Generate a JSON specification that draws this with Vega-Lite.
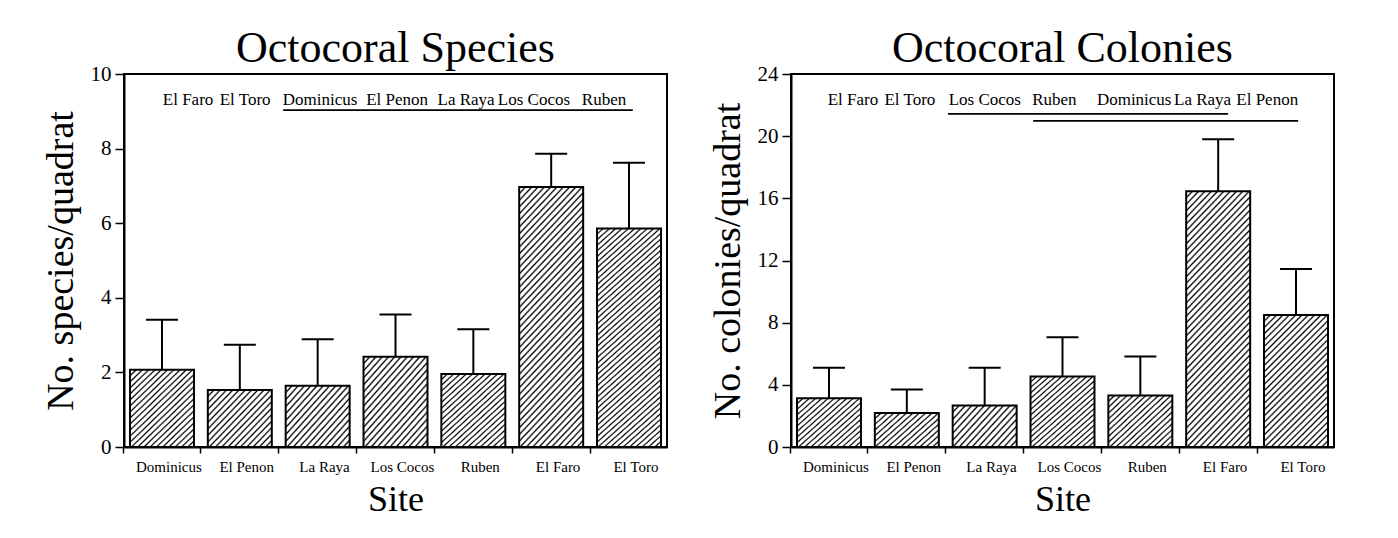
{
"$schema": "https://vega.github.io/schema/vega-lite/v6.json",
"padding": {"left": 41, "top": 26, "right": 5, "bottom": 5},
"background": "white",
"spacing": 124,
"bounds": "flush",
"params": [
  {"name": "hA", "value": {"gradient": "linear", "x1": 0, "y1": 0, "x2": 1.178, "y2": 0.7, "stops": [
{"offset":0,"color":"#000"},{"offset":0.0175,"color":"#fff"},{"offset":0.045,"color":"#fff"},
{"offset":0.0625,"color":"#000"},{"offset":0.08,"color":"#fff"},{"offset":0.1075,"color":"#fff"},
{"offset":0.125,"color":"#000"},{"offset":0.1425,"color":"#fff"},{"offset":0.17,"color":"#fff"},
{"offset":0.1875,"color":"#000"},{"offset":0.205,"color":"#fff"},{"offset":0.2325,"color":"#fff"},
{"offset":0.25,"color":"#000"},{"offset":0.2675,"color":"#fff"},{"offset":0.295,"color":"#fff"},
{"offset":0.3125,"color":"#000"},{"offset":0.33,"color":"#fff"},{"offset":0.3575,"color":"#fff"},
{"offset":0.375,"color":"#000"},{"offset":0.3925,"color":"#fff"},{"offset":0.42,"color":"#fff"},
{"offset":0.4375,"color":"#000"},{"offset":0.455,"color":"#fff"},{"offset":0.4825,"color":"#fff"},
{"offset":0.5,"color":"#000"},{"offset":0.5175,"color":"#fff"},{"offset":0.545,"color":"#fff"},
{"offset":0.5625,"color":"#000"},{"offset":0.58,"color":"#fff"},{"offset":0.6075,"color":"#fff"},
{"offset":0.625,"color":"#000"},{"offset":0.6425,"color":"#fff"},{"offset":0.67,"color":"#fff"},
{"offset":0.6875,"color":"#000"},{"offset":0.705,"color":"#fff"},{"offset":0.7325,"color":"#fff"},
{"offset":0.75,"color":"#000"},{"offset":0.7675,"color":"#fff"},{"offset":0.795,"color":"#fff"},
{"offset":0.8125,"color":"#000"},{"offset":0.83,"color":"#fff"},{"offset":0.8575,"color":"#fff"},
{"offset":0.875,"color":"#000"},{"offset":0.8925,"color":"#fff"},{"offset":0.92,"color":"#fff"},
{"offset":0.9375,"color":"#000"},{"offset":0.955,"color":"#fff"},{"offset":0.9825,"color":"#fff"},
{"offset":1,"color":"#000"}]}},
  {"name": "hB", "value": {"gradient": "linear", "x1": 0, "y1": 0, "x2": 1.07, "y2": 0.919, "stops": [
{"offset":0,"color":"#000"},{"offset":0.0147,"color":"#fff"},{"offset":0.0379,"color":"#fff"},
{"offset":0.0526,"color":"#000"},{"offset":0.0674,"color":"#fff"},{"offset":0.0905,"color":"#fff"},
{"offset":0.1053,"color":"#000"},{"offset":0.12,"color":"#fff"},{"offset":0.1432,"color":"#fff"},
{"offset":0.1579,"color":"#000"},{"offset":0.1726,"color":"#fff"},{"offset":0.1958,"color":"#fff"},
{"offset":0.2105,"color":"#000"},{"offset":0.2253,"color":"#fff"},{"offset":0.2484,"color":"#fff"},
{"offset":0.2632,"color":"#000"},{"offset":0.2779,"color":"#fff"},{"offset":0.3011,"color":"#fff"},
{"offset":0.3158,"color":"#000"},{"offset":0.3305,"color":"#fff"},{"offset":0.3537,"color":"#fff"},
{"offset":0.3684,"color":"#000"},{"offset":0.3832,"color":"#fff"},{"offset":0.4063,"color":"#fff"},
{"offset":0.4211,"color":"#000"},{"offset":0.4358,"color":"#fff"},{"offset":0.4589,"color":"#fff"},
{"offset":0.4737,"color":"#000"},{"offset":0.4884,"color":"#fff"},{"offset":0.5116,"color":"#fff"},
{"offset":0.5263,"color":"#000"},{"offset":0.5411,"color":"#fff"},{"offset":0.5642,"color":"#fff"},
{"offset":0.5789,"color":"#000"},{"offset":0.5937,"color":"#fff"},{"offset":0.6168,"color":"#fff"},
{"offset":0.6316,"color":"#000"},{"offset":0.6463,"color":"#fff"},{"offset":0.6695,"color":"#fff"},
{"offset":0.6842,"color":"#000"},{"offset":0.6989,"color":"#fff"},{"offset":0.7221,"color":"#fff"},
{"offset":0.7368,"color":"#000"},{"offset":0.7516,"color":"#fff"},{"offset":0.7747,"color":"#fff"},
{"offset":0.7895,"color":"#000"},{"offset":0.8042,"color":"#fff"},{"offset":0.8274,"color":"#fff"},
{"offset":0.8421,"color":"#000"},{"offset":0.8568,"color":"#fff"},{"offset":0.88,"color":"#fff"},
{"offset":0.8947,"color":"#000"},{"offset":0.9095,"color":"#fff"},{"offset":0.9326,"color":"#fff"},
{"offset":0.9474,"color":"#000"},{"offset":0.9621,"color":"#fff"},{"offset":0.9853,"color":"#fff"},
{"offset":1,"color":"#000"}]}},
  {"name": "hC", "value": {"gradient": "linear", "x1": 0, "y1": 0, "x2": 0.878, "y2": 1.098, "stops": [
{"offset":0,"color":"#000"},{"offset":0.0122,"color":"#fff"},{"offset":0.0313,"color":"#fff"},
{"offset":0.0435,"color":"#000"},{"offset":0.0557,"color":"#fff"},{"offset":0.0748,"color":"#fff"},
{"offset":0.087,"color":"#000"},{"offset":0.0991,"color":"#fff"},{"offset":0.1183,"color":"#fff"},
{"offset":0.1304,"color":"#000"},{"offset":0.1426,"color":"#fff"},{"offset":0.1617,"color":"#fff"},
{"offset":0.1739,"color":"#000"},{"offset":0.1861,"color":"#fff"},{"offset":0.2052,"color":"#fff"},
{"offset":0.2174,"color":"#000"},{"offset":0.2296,"color":"#fff"},{"offset":0.2487,"color":"#fff"},
{"offset":0.2609,"color":"#000"},{"offset":0.273,"color":"#fff"},{"offset":0.2922,"color":"#fff"},
{"offset":0.3043,"color":"#000"},{"offset":0.3165,"color":"#fff"},{"offset":0.3357,"color":"#fff"},
{"offset":0.3478,"color":"#000"},{"offset":0.36,"color":"#fff"},{"offset":0.3791,"color":"#fff"},
{"offset":0.3913,"color":"#000"},{"offset":0.4035,"color":"#fff"},{"offset":0.4226,"color":"#fff"},
{"offset":0.4348,"color":"#000"},{"offset":0.447,"color":"#fff"},{"offset":0.4661,"color":"#fff"},
{"offset":0.4783,"color":"#000"},{"offset":0.4904,"color":"#fff"},{"offset":0.5096,"color":"#fff"},
{"offset":0.5217,"color":"#000"},{"offset":0.5339,"color":"#fff"},{"offset":0.553,"color":"#fff"},
{"offset":0.5652,"color":"#000"},{"offset":0.5774,"color":"#fff"},{"offset":0.5965,"color":"#fff"},
{"offset":0.6087,"color":"#000"},{"offset":0.6209,"color":"#fff"},{"offset":0.64,"color":"#fff"},
{"offset":0.6522,"color":"#000"},{"offset":0.6643,"color":"#fff"},{"offset":0.6835,"color":"#fff"},
{"offset":0.6957,"color":"#000"},{"offset":0.7078,"color":"#fff"},{"offset":0.727,"color":"#fff"},
{"offset":0.7391,"color":"#000"},{"offset":0.7513,"color":"#fff"},{"offset":0.7704,"color":"#fff"},
{"offset":0.7826,"color":"#000"},{"offset":0.7948,"color":"#fff"},{"offset":0.8139,"color":"#fff"},
{"offset":0.8261,"color":"#000"},{"offset":0.8383,"color":"#fff"},{"offset":0.8574,"color":"#fff"},
{"offset":0.8696,"color":"#000"},{"offset":0.8817,"color":"#fff"},{"offset":0.9009,"color":"#fff"},
{"offset":0.913,"color":"#000"},{"offset":0.9252,"color":"#fff"},{"offset":0.9443,"color":"#fff"},
{"offset":0.9565,"color":"#000"},{"offset":0.9687,"color":"#fff"},{"offset":0.9878,"color":"#fff"},
{"offset":1,"color":"#000"}]}},
  {"name": "hD", "value": {"gradient": "linear", "x1": 0, "y1": 0, "x2": 0.583, "y2": 1.202, "stops": [
{"offset":0,"color":"#000"},{"offset":0.009,"color":"#fff"},{"offset":0.0232,"color":"#fff"},
{"offset":0.0323,"color":"#000"},{"offset":0.0413,"color":"#fff"},{"offset":0.0555,"color":"#fff"},
{"offset":0.0645,"color":"#000"},{"offset":0.0735,"color":"#fff"},{"offset":0.0877,"color":"#fff"},
{"offset":0.0968,"color":"#000"},{"offset":0.1058,"color":"#fff"},{"offset":0.12,"color":"#fff"},
{"offset":0.129,"color":"#000"},{"offset":0.1381,"color":"#fff"},{"offset":0.1523,"color":"#fff"},
{"offset":0.1613,"color":"#000"},{"offset":0.1703,"color":"#fff"},{"offset":0.1845,"color":"#fff"},
{"offset":0.1935,"color":"#000"},{"offset":0.2026,"color":"#fff"},{"offset":0.2168,"color":"#fff"},
{"offset":0.2258,"color":"#000"},{"offset":0.2348,"color":"#fff"},{"offset":0.249,"color":"#fff"},
{"offset":0.2581,"color":"#000"},{"offset":0.2671,"color":"#fff"},{"offset":0.2813,"color":"#fff"},
{"offset":0.2903,"color":"#000"},{"offset":0.2994,"color":"#fff"},{"offset":0.3135,"color":"#fff"},
{"offset":0.3226,"color":"#000"},{"offset":0.3316,"color":"#fff"},{"offset":0.3458,"color":"#fff"},
{"offset":0.3548,"color":"#000"},{"offset":0.3639,"color":"#fff"},{"offset":0.3781,"color":"#fff"},
{"offset":0.3871,"color":"#000"},{"offset":0.3961,"color":"#fff"},{"offset":0.4103,"color":"#fff"},
{"offset":0.4194,"color":"#000"},{"offset":0.4284,"color":"#fff"},{"offset":0.4426,"color":"#fff"},
{"offset":0.4516,"color":"#000"},{"offset":0.4606,"color":"#fff"},{"offset":0.4748,"color":"#fff"},
{"offset":0.4839,"color":"#000"},{"offset":0.4929,"color":"#fff"},{"offset":0.5071,"color":"#fff"},
{"offset":0.5161,"color":"#000"},{"offset":0.5252,"color":"#fff"},{"offset":0.5394,"color":"#fff"},
{"offset":0.5484,"color":"#000"},{"offset":0.5574,"color":"#fff"},{"offset":0.5716,"color":"#fff"},
{"offset":0.5806,"color":"#000"},{"offset":0.5897,"color":"#fff"},{"offset":0.6039,"color":"#fff"},
{"offset":0.6129,"color":"#000"},{"offset":0.6219,"color":"#fff"},{"offset":0.6361,"color":"#fff"},
{"offset":0.6452,"color":"#000"},{"offset":0.6542,"color":"#fff"},{"offset":0.6684,"color":"#fff"},
{"offset":0.6774,"color":"#000"},{"offset":0.6865,"color":"#fff"},{"offset":0.7006,"color":"#fff"},
{"offset":0.7097,"color":"#000"},{"offset":0.7187,"color":"#fff"},{"offset":0.7329,"color":"#fff"},
{"offset":0.7419,"color":"#000"},{"offset":0.751,"color":"#fff"},{"offset":0.7652,"color":"#fff"},
{"offset":0.7742,"color":"#000"},{"offset":0.7832,"color":"#fff"},{"offset":0.7974,"color":"#fff"},
{"offset":0.8065,"color":"#000"},{"offset":0.8155,"color":"#fff"},{"offset":0.8297,"color":"#fff"},
{"offset":0.8387,"color":"#000"},{"offset":0.8477,"color":"#fff"},{"offset":0.8619,"color":"#fff"},
{"offset":0.871,"color":"#000"},{"offset":0.88,"color":"#fff"},{"offset":0.8942,"color":"#fff"},
{"offset":0.9032,"color":"#000"},{"offset":0.9123,"color":"#fff"},{"offset":0.9265,"color":"#fff"},
{"offset":0.9355,"color":"#000"},{"offset":0.9445,"color":"#fff"},{"offset":0.9587,"color":"#fff"},
{"offset":0.9677,"color":"#000"},{"offset":0.9768,"color":"#fff"},{"offset":0.991,"color":"#fff"},
{"offset":1,"color":"#000"}]}},
  {"name": "hE", "value": {"gradient": "linear", "x1": 0, "y1": 0, "x2": 0.3084, "y2": 1.1807, "stops": [
{"offset":0,"color":"#000"},{"offset":0.0057,"color":"#fff"},{"offset":0.0147,"color":"#fff"},
{"offset":0.0204,"color":"#000"},{"offset":0.0261,"color":"#fff"},{"offset":0.0351,"color":"#fff"},
{"offset":0.0408,"color":"#000"},{"offset":0.0465,"color":"#fff"},{"offset":0.0555,"color":"#fff"},
{"offset":0.0612,"color":"#000"},{"offset":0.0669,"color":"#fff"},{"offset":0.0759,"color":"#fff"},
{"offset":0.0816,"color":"#000"},{"offset":0.0873,"color":"#fff"},{"offset":0.0963,"color":"#fff"},
{"offset":0.102,"color":"#000"},{"offset":0.1077,"color":"#fff"},{"offset":0.1167,"color":"#fff"},
{"offset":0.1224,"color":"#000"},{"offset":0.1282,"color":"#fff"},{"offset":0.1371,"color":"#fff"},
{"offset":0.1429,"color":"#000"},{"offset":0.1486,"color":"#fff"},{"offset":0.1576,"color":"#fff"},
{"offset":0.1633,"color":"#000"},{"offset":0.169,"color":"#fff"},{"offset":0.178,"color":"#fff"},
{"offset":0.1837,"color":"#000"},{"offset":0.1894,"color":"#fff"},{"offset":0.1984,"color":"#fff"},
{"offset":0.2041,"color":"#000"},{"offset":0.2098,"color":"#fff"},{"offset":0.2188,"color":"#fff"},
{"offset":0.2245,"color":"#000"},{"offset":0.2302,"color":"#fff"},{"offset":0.2392,"color":"#fff"},
{"offset":0.2449,"color":"#000"},{"offset":0.2506,"color":"#fff"},{"offset":0.2596,"color":"#fff"},
{"offset":0.2653,"color":"#000"},{"offset":0.271,"color":"#fff"},{"offset":0.28,"color":"#fff"},
{"offset":0.2857,"color":"#000"},{"offset":0.2914,"color":"#fff"},{"offset":0.3004,"color":"#fff"},
{"offset":0.3061,"color":"#000"},{"offset":0.3118,"color":"#fff"},{"offset":0.3208,"color":"#fff"},
{"offset":0.3265,"color":"#000"},{"offset":0.3322,"color":"#fff"},{"offset":0.3412,"color":"#fff"},
{"offset":0.3469,"color":"#000"},{"offset":0.3527,"color":"#fff"},{"offset":0.3616,"color":"#fff"},
{"offset":0.3673,"color":"#000"},{"offset":0.3731,"color":"#fff"},{"offset":0.382,"color":"#fff"},
{"offset":0.3878,"color":"#000"},{"offset":0.3935,"color":"#fff"},{"offset":0.4024,"color":"#fff"},
{"offset":0.4082,"color":"#000"},{"offset":0.4139,"color":"#fff"},{"offset":0.4229,"color":"#fff"},
{"offset":0.4286,"color":"#000"},{"offset":0.4343,"color":"#fff"},{"offset":0.4433,"color":"#fff"},
{"offset":0.449,"color":"#000"},{"offset":0.4547,"color":"#fff"},{"offset":0.4637,"color":"#fff"},
{"offset":0.4694,"color":"#000"},{"offset":0.4751,"color":"#fff"},{"offset":0.4841,"color":"#fff"},
{"offset":0.4898,"color":"#000"},{"offset":0.4955,"color":"#fff"},{"offset":0.5045,"color":"#fff"},
{"offset":0.5102,"color":"#000"},{"offset":0.5159,"color":"#fff"},{"offset":0.5249,"color":"#fff"},
{"offset":0.5306,"color":"#000"},{"offset":0.5363,"color":"#fff"},{"offset":0.5453,"color":"#fff"},
{"offset":0.551,"color":"#000"},{"offset":0.5567,"color":"#fff"},{"offset":0.5657,"color":"#fff"},
{"offset":0.5714,"color":"#000"},{"offset":0.5771,"color":"#fff"},{"offset":0.5861,"color":"#fff"},
{"offset":0.5918,"color":"#000"},{"offset":0.5976,"color":"#fff"},{"offset":0.6065,"color":"#fff"},
{"offset":0.6122,"color":"#000"},{"offset":0.618,"color":"#fff"},{"offset":0.6269,"color":"#fff"},
{"offset":0.6327,"color":"#000"},{"offset":0.6384,"color":"#fff"},{"offset":0.6473,"color":"#fff"},
{"offset":0.6531,"color":"#000"},{"offset":0.6588,"color":"#fff"},{"offset":0.6678,"color":"#fff"},
{"offset":0.6735,"color":"#000"},{"offset":0.6792,"color":"#fff"},{"offset":0.6882,"color":"#fff"},
{"offset":0.6939,"color":"#000"},{"offset":0.6996,"color":"#fff"},{"offset":0.7086,"color":"#fff"},
{"offset":0.7143,"color":"#000"},{"offset":0.72,"color":"#fff"},{"offset":0.729,"color":"#fff"},
{"offset":0.7347,"color":"#000"},{"offset":0.7404,"color":"#fff"},{"offset":0.7494,"color":"#fff"},
{"offset":0.7551,"color":"#000"},{"offset":0.7608,"color":"#fff"},{"offset":0.7698,"color":"#fff"},
{"offset":0.7755,"color":"#000"},{"offset":0.7812,"color":"#fff"},{"offset":0.7902,"color":"#fff"},
{"offset":0.7959,"color":"#000"},{"offset":0.8016,"color":"#fff"},{"offset":0.8106,"color":"#fff"},
{"offset":0.8163,"color":"#000"},{"offset":0.822,"color":"#fff"},{"offset":0.831,"color":"#fff"},
{"offset":0.8367,"color":"#000"},{"offset":0.8425,"color":"#fff"},{"offset":0.8514,"color":"#fff"},
{"offset":0.8571,"color":"#000"},{"offset":0.8629,"color":"#fff"},{"offset":0.8718,"color":"#fff"},
{"offset":0.8776,"color":"#000"},{"offset":0.8833,"color":"#fff"},{"offset":0.8922,"color":"#fff"},
{"offset":0.898,"color":"#000"},{"offset":0.9037,"color":"#fff"},{"offset":0.9127,"color":"#fff"},
{"offset":0.9184,"color":"#000"},{"offset":0.9241,"color":"#fff"},{"offset":0.9331,"color":"#fff"},
{"offset":0.9388,"color":"#000"},{"offset":0.9445,"color":"#fff"},{"offset":0.9535,"color":"#fff"},
{"offset":0.9592,"color":"#000"},{"offset":0.9649,"color":"#fff"},{"offset":0.9739,"color":"#fff"},
{"offset":0.9796,"color":"#000"},{"offset":0.9853,"color":"#fff"},{"offset":0.9943,"color":"#fff"},
{"offset":1,"color":"#000"}]}}
],
"config": {
 "view": {"stroke": "black", "strokeWidth": 2},
 "axis": {"domainColor": "black", "domainWidth": 2, "tickColor": "black", "tickWidth": 1.5, "labelFont": "Liberation Serif", "labelColor": "black", "titleFont": "Liberation Serif", "titleColor": "black", "titleFontWeight": "normal", "grid": false},
 "title": {"font": "Liberation Serif", "fontSize": 44, "fontWeight": "normal", "color": "black", "anchor": "middle", "offset": -8}
},
"hconcat": [
 {
  "title": {"text": "Octocoral Species"},
  "width": 543, "height": 373,
  "resolve": {"scale": {"x": "independent"}},
  "layer": [
   {
    "data": {"values": [
     {"site": "Dominicus", "mean": 2.07, "upper": 3.41},
     {"site": "El Penon", "mean": 1.53, "upper": 2.74},
     {"site": "La Raya", "mean": 1.64, "upper": 2.89},
     {"site": "Los Cocos", "mean": 2.42, "upper": 3.55},
     {"site": "Ruben", "mean": 1.96, "upper": 3.16},
     {"site": "El Faro", "mean": 6.97, "upper": 7.86},
     {"site": "El Toro", "mean": 5.86, "upper": 7.62}
    ]},
    "encoding": {
     "x": {"field": "site", "type": "nominal", "title": "Site",
      "scale": {"domain": ["Dominicus","El Penon","La Raya","Los Cocos","Ruben","El Faro","El Toro"], "paddingInner": 0.178, "paddingOuter": 0.077},
      "axis": {"labelAngle": 0, "labelFontSize": 15, "labelPadding": 6, "tickSize": 6, "bandPosition": -0.108, "labelOffset": 6.9, "titleFontSize": 36, "titlePadding": 8}},
     "y": {"field": "mean", "type": "quantitative", "title": "No. species/quadrat",
      "scale": {"domain": [0, 10], "nice": false},
      "axis": {"values": [0,1,2,3,4,5,6,7,8,9,10], "labelExpr": "datum.value % 2 == 0 ? datum.label : ''", "labelFontSize": 21, "labelPadding": 4, "tickSize": {"condition": {"test": "datum.value % 2 == 0", "value": 9}, "value": 5}, "titleFontSize": 38, "titlePadding": 10}}
    },
    "layer": [
     {"mark": {"type": "rule", "color": "black", "strokeWidth": 2}, "encoding": {"y2": {"field": "upper"}}},
     {"mark": {"type": "tick", "orient": "horizontal", "size": 32, "thickness": 2, "color": "black", "opacity": 1}, "encoding": {"y": {"field": "upper", "type": "quantitative", "title": "No. species/quadrat"}}},
     {"transform": [{"filter": {"field": "site", "oneOf": ["El Penon", "La Raya"]}}], "mark": {"type": "bar", "fill": {"expr": "hB"}, "stroke": "black", "strokeWidth": 2}},
     {"transform": [{"filter": {"field": "site", "oneOf": ["Dominicus", "Los Cocos", "Ruben"]}}], "mark": {"type": "bar", "fill": {"expr": "hC"}, "stroke": "black", "strokeWidth": 2}},
     {"transform": [{"filter": {"field": "site", "oneOf": ["El Faro", "El Toro"]}}], "mark": {"type": "bar", "fill": {"expr": "hE"}, "stroke": "black", "strokeWidth": 2}}
    ]
   },
   {
    "layer": [
     {
      "data": {"values": [
       {"word": "El Faro", "pos": 0.118},
       {"word": "El Toro", "pos": 0.223},
       {"word": "Dominicus", "pos": 0.361},
       {"word": "El Penon", "pos": 0.503},
       {"word": "La Raya", "pos": 0.63},
       {"word": "Los Cocos", "pos": 0.755},
       {"word": "Ruben", "pos": 0.884}
      ]},
      "mark": {"type": "text", "font": "Liberation Serif", "fontSize": 17, "color": "black", "baseline": "middle", "align": "center"},
      "encoding": {
       "x": {"field": "pos", "type": "quantitative", "scale": {"domain": [0, 1]}, "axis": null},
       "y": {"datum": 9.3, "type": "quantitative"},
       "text": {"field": "word"}
      }
     },
     {
      "data": {"values": [{"start": 0.293, "end": 0.937}]},
      "mark": {"type": "rule", "color": "black", "strokeWidth": 1.8},
      "encoding": {
       "x": {"field": "start", "type": "quantitative", "scale": {"domain": [0, 1]}, "axis": null},
       "x2": {"field": "end"},
       "y": {"datum": 9.03, "type": "quantitative"}
      }
     }
    ]
   }
  ]
 },
 {
  "title": {"text": "Octocoral Colonies"},
  "width": 543, "height": 373,
  "resolve": {"scale": {"x": "independent"}},
  "layer": [
   {
    "data": {"values": [
     {"site": "Dominicus", "mean": 3.14, "upper": 5.1},
     {"site": "El Penon", "mean": 2.19, "upper": 3.7},
     {"site": "La Raya", "mean": 2.67, "upper": 5.1},
     {"site": "Los Cocos", "mean": 4.54, "upper": 7.06},
     {"site": "Ruben", "mean": 3.31, "upper": 5.83},
     {"site": "El Faro", "mean": 16.46, "upper": 19.8},
     {"site": "El Toro", "mean": 8.49, "upper": 11.45}
    ]},
    "encoding": {
     "x": {"field": "site", "type": "nominal", "title": "Site",
      "scale": {"domain": ["Dominicus","El Penon","La Raya","Los Cocos","Ruben","El Faro","El Toro"], "paddingInner": 0.178, "paddingOuter": 0.077},
      "axis": {"labelAngle": 0, "labelFontSize": 15, "labelPadding": 6, "tickSize": 6, "bandPosition": -0.108, "labelOffset": 6.9, "titleFontSize": 36, "titlePadding": 8}},
     "y": {"field": "mean", "type": "quantitative", "title": "No. colonies/quadrat",
      "scale": {"domain": [0, 24], "nice": false},
      "axis": {"values": [0,2,4,6,8,10,12,14,16,18,20,22,24], "labelExpr": "datum.value % 4 == 0 ? datum.label : ''", "labelFontSize": 21, "labelPadding": 4, "tickSize": {"condition": {"test": "datum.value % 4 == 0", "value": 9}, "value": 5}, "titleFontSize": 38, "titlePadding": 10}}
    },
    "layer": [
     {"mark": {"type": "rule", "color": "black", "strokeWidth": 2}, "encoding": {"y2": {"field": "upper"}}},
     {"mark": {"type": "tick", "orient": "horizontal", "size": 32, "thickness": 2, "color": "black", "opacity": 1}, "encoding": {"y": {"field": "upper", "type": "quantitative", "title": "No. colonies/quadrat"}}},
     {"transform": [{"filter": {"field": "site", "oneOf": ["El Penon", "La Raya"]}}], "mark": {"type": "bar", "fill": {"expr": "hA"}, "stroke": "black", "strokeWidth": 2}},
     {"transform": [{"filter": {"field": "site", "oneOf": ["Dominicus", "Ruben"]}}], "mark": {"type": "bar", "fill": {"expr": "hB"}, "stroke": "black", "strokeWidth": 2}},
     {"transform": [{"filter": {"field": "site", "oneOf": ["Los Cocos"]}}], "mark": {"type": "bar", "fill": {"expr": "hC"}, "stroke": "black", "strokeWidth": 2}},
     {"transform": [{"filter": {"field": "site", "oneOf": ["El Toro"]}}], "mark": {"type": "bar", "fill": {"expr": "hD"}, "stroke": "black", "strokeWidth": 2}},
     {"transform": [{"filter": {"field": "site", "oneOf": ["El Faro"]}}], "mark": {"type": "bar", "fill": {"expr": "hE"}, "stroke": "black", "strokeWidth": 2}}
    ]
   },
   {
    "layer": [
     {
      "data": {"values": [
       {"word": "El Faro", "pos": 0.114},
       {"word": "El Toro", "pos": 0.219},
       {"word": "Los Cocos", "pos": 0.357},
       {"word": "Ruben", "pos": 0.485},
       {"word": "Dominicus", "pos": 0.632},
       {"word": "La Raya", "pos": 0.758},
       {"word": "El Penon", "pos": 0.877}
      ]},
      "mark": {"type": "text", "font": "Liberation Serif", "fontSize": 17, "color": "black", "baseline": "middle", "align": "center"},
      "encoding": {
       "x": {"field": "pos", "type": "quantitative", "scale": {"domain": [0, 1]}, "axis": null},
       "y": {"datum": 22.33, "type": "quantitative"},
       "text": {"field": "word"}
      }
     },
     {
      "data": {"values": [{"start": 0.289, "end": 0.805, "level": 21.43}, {"start": 0.446, "end": 0.934, "level": 20.98}]},
      "mark": {"type": "rule", "color": "black", "strokeWidth": 1.8},
      "encoding": {
       "x": {"field": "start", "type": "quantitative", "scale": {"domain": [0, 1]}, "axis": null},
       "x2": {"field": "end"},
       "y": {"field": "level", "type": "quantitative"}
      }
     }
    ]
   }
  ]
 }
]
}
